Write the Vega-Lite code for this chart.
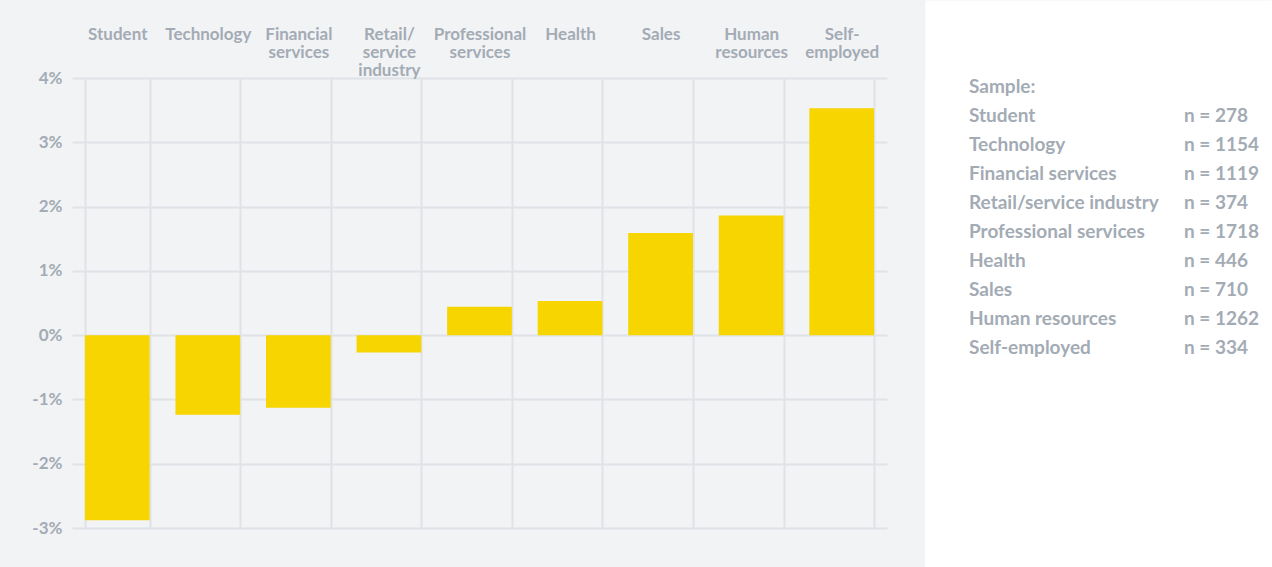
{
  "$schema": "https://vega.github.io/schema/vega-lite/v6.json",
  "background": "#f2f3f5",
  "padding": 0,
  "spacing": 38,
  "config": {"view": {"stroke": null}, "font": "Lato"},
  "hconcat": [
    {
      "width": 815,
      "height": 450,
      "view": {"fill": "#f2f3f5", "stroke": null},
      "data": {"values": [
        {"sector": "Student", "change": -2.88},
        {"sector": "Technology", "change": -1.24},
        {"sector": "Financial services", "change": -1.13},
        {"sector": "Retail/service industry", "change": -0.27},
        {"sector": "Professional services", "change": 0.44},
        {"sector": "Health", "change": 0.53},
        {"sector": "Sales", "change": 1.59},
        {"sector": "Human resources", "change": 1.86},
        {"sector": "Self-employed", "change": 3.53}
      ]},
      "mark": {"type": "bar", "color": "#f6d500"},
      "encoding": {
        "x": {
          "field": "sector", "type": "nominal", "sort": null,
          "scale": {"paddingInner": 0.285, "paddingOuter": 0.1425},
          "axis": {
            "orient": "top", "title": null, "labelAngle": 0,
            "labelExpr": "datum.label == 'Retail/service industry' ? ['Retail/', 'service', 'industry'] : datum.label == 'Self-employed' ? ['Self-', 'employed'] : split(datum.label, ' ')",
            "labelBaseline": "middle", "labelPadding": 44, "labelLineHeight": 18,
            "labelFontSize": 17, "labelFontWeight": "bold", "labelColor": "#a3abb4",
            "ticks": false, "domain": false, "tickBand": "extent",
            "grid": true, "gridColor": "#dfe2e7", "gridWidth": 2,
            "minExtent": 78, "maxExtent": 78
          }
        },
        "y": {
          "field": "change", "type": "quantitative",
          "scale": {"domain": [-3, 4], "nice": false},
          "axis": {
            "title": null, "values": [-3, -2, -1, 0, 1, 2, 3, 4],
            "labelExpr": "datum.value + '%'",
            "labelFontSize": 17, "labelFontWeight": "bold", "labelColor": "#a3abb4",
            "labelPadding": 10, "ticks": false, "domain": false,
            "grid": true, "gridColor": "#dfe2e7", "gridWidth": 2,
            "minExtent": 72, "maxExtent": 72
          }
        }
      }
    },
    {
      "width": 346,
      "height": 489,
      "view": {"fill": "#ffffff", "stroke": null},
      "data": {"values": [
        {"label": "Sample:", "n": ""},
        {"label": "Student", "n": "n = 278"},
        {"label": "Technology", "n": "n = 1154"},
        {"label": "Financial services", "n": "n = 1119"},
        {"label": "Retail/service industry", "n": "n = 374"},
        {"label": "Professional services", "n": "n = 1718"},
        {"label": "Health", "n": "n = 446"},
        {"label": "Sales", "n": "n = 710"},
        {"label": "Human resources", "n": "n = 1262"},
        {"label": "Self-employed", "n": "n = 334"}
      ]},
      "encoding": {
        "y": {"field": "label", "type": "nominal", "sort": null,
              "scale": {"type": "point", "range": [9, 270], "padding": 0},
              "axis": null}
      },
      "layer": [
        {"mark": {"type": "rule", "opacity": 0},
         "encoding": {
           "x": {"datum": 0, "type": "quantitative", "scale": {"domain": [0, 1]},
                 "axis": {"orient": "top", "title": null, "labels": false, "ticks": false, "grid": false,
                          "domain": true, "domainColor": "#ffffff", "domainWidth": 156, "domainCap": "butt",
                          "minExtent": 78, "maxExtent": 78}}
         }},
        {"mark": {"type": "text", "align": "left", "baseline": "middle", "dx": -129, "fontSize": 19, "fontWeight": "bold", "color": "#a3abb4"},
         "encoding": {"text": {"field": "label"}}},
        {"mark": {"type": "text", "align": "left", "baseline": "middle", "dx": 86, "fontSize": 19, "fontWeight": "bold", "color": "#a3abb4"},
         "encoding": {"text": {"field": "n"}}}
      ]
    }
  ]
}
